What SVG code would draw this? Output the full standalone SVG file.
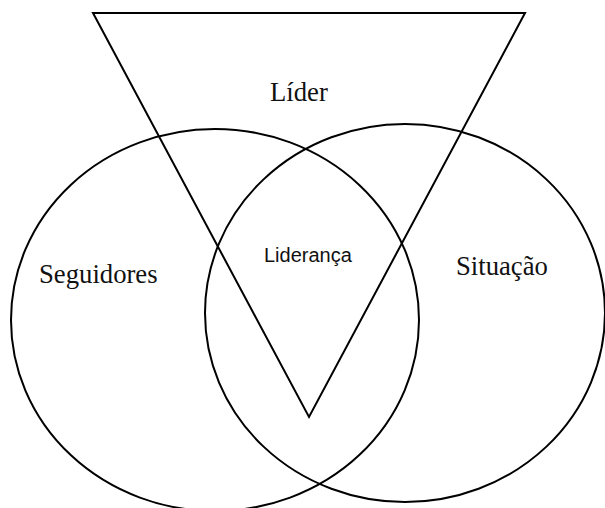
<svg xmlns="http://www.w3.org/2000/svg" width="605" height="508" viewBox="0 0 605 508">
  <style>
    .shape { fill: none; stroke: #000; stroke-width: 2; }
    .serif { font-family: "Liberation Serif", "Times New Roman", serif; font-size: 26.7px; fill: #111; }
    .sans { font-family: "Liberation Sans", Arial, sans-serif; font-size: 20px; fill: #111; }
  </style>
  <rect width="605" height="508" fill="#fff"/>
  <g id="seguidores">
    <ellipse class="shape" cx="215" cy="320" rx="204" ry="191"/>
    <text class="serif" x="39" y="283">Seguidores</text>
  </g>
  <g id="situacao">
    <ellipse class="shape" cx="405" cy="313" rx="200" ry="189"/>
    <text class="serif" x="456" y="275">Situação</text>
  </g>
  <g id="lider">
    <polygon class="shape" stroke-linejoin="miter" points="93,13 525,13 309,417"/>
    <text class="serif" x="270" y="101">Líder</text>
  </g>
  <g id="lideranca">
    <text class="sans" x="264" y="262">Liderança</text>
  </g>
  <g id="connectors"></g>
</svg>
